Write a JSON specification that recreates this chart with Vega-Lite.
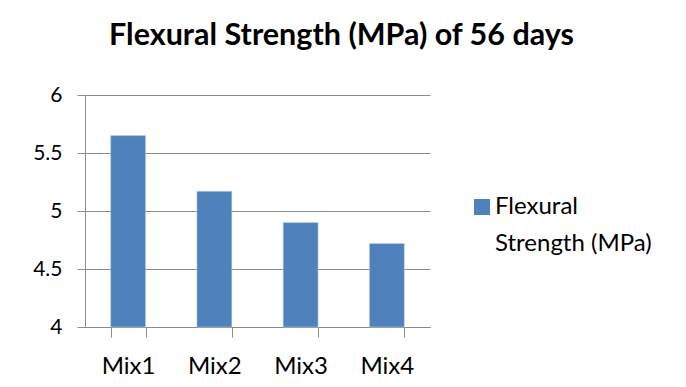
{
  "$schema": "https://vega.github.io/schema/vega-lite/v6.json",
  "autosize": {"type": "none"},
  "width": 345,
  "height": 232,
  "padding": {"left": 85, "top": 95, "right": 256, "bottom": 60},
  "background": "white",
  "title": {
    "text": "Flexural Strength (MPa) of 56 days",
    "font": "Lato",
    "fontSize": 30.5,
    "fontWeight": "bold",
    "color": "black",
    "anchor": "middle",
    "frame": "group",
    "dx": 84,
    "baseline": "alphabetic",
    "offset": 9
  },
  "data": {
    "values": [
      {"mix": "Mix1", "value": 5.65, "series": "Flexural Strength (MPa)"},
      {"mix": "Mix2", "value": 5.17, "series": "Flexural Strength (MPa)"},
      {"mix": "Mix3", "value": 4.90, "series": "Flexural Strength (MPa)"},
      {"mix": "Mix4", "value": 4.72, "series": "Flexural Strength (MPa)"}
    ]
  },
  "mark": {"type": "bar", "stroke": "#c9d6ea", "strokeWidth": 0.5},
  "encoding": {
    "x": {
      "field": "mix",
      "type": "nominal",
      "sort": null,
      "scale": {"paddingInner": 0.595, "paddingOuter": 0.2975},
      "axis": {
        "title": null,
        "labelAngle": 0,
        "labelFont": "Lato",
        "labelFontSize": 24,
        "labelColor": "black",
        "labelPadding": 17,
        "tickBand": "extent",
        "tickSize": 10,
        "tickColor": "#8c8c8c",
        "domainColor": "#8c8c8c",
        "grid": false
      }
    },
    "y": {
      "field": "value",
      "type": "quantitative",
      "scale": {"domain": [4, 6], "nice": false, "zero": false},
      "axis": {
        "title": null,
        "values": [4, 4.5, 5, 5.5, 6],
        "format": "~g",
        "labelFont": "Lato",
        "labelFontSize": 21,
        "labelColor": "black",
        "labelPadding": 15,
        "tickSize": 8,
        "tickColor": "#8c8c8c",
        "domainColor": "#8c8c8c",
        "gridColor": "#8c8c8c",
        "gridWidth": 1
      }
    },
    "y2": {"datum": 4},
    "color": {
      "field": "series",
      "type": "nominal",
      "scale": {"range": ["#4f81bd"]},
      "legend": {
        "title": null,
        "orient": "none",
        "legendX": 385,
        "legendY": 100,
        "symbolType": "square",
        "symbolSize": 256,
        "symbolStrokeWidth": 0,
        "labelFont": "Lato",
        "labelFontSize": 24,
        "labelColor": "black",
        "labelOffset": 1,
        "labelLimit": 300,
        "labelBaseline": "middle",
        "labelExpr": "['Flexural', 'Strength (MPa)']"
      }
    }
  },
  "config": {
    "view": {"stroke": null},
    "style": {"guide-label": {"lineHeight": 37}}
  }
}
